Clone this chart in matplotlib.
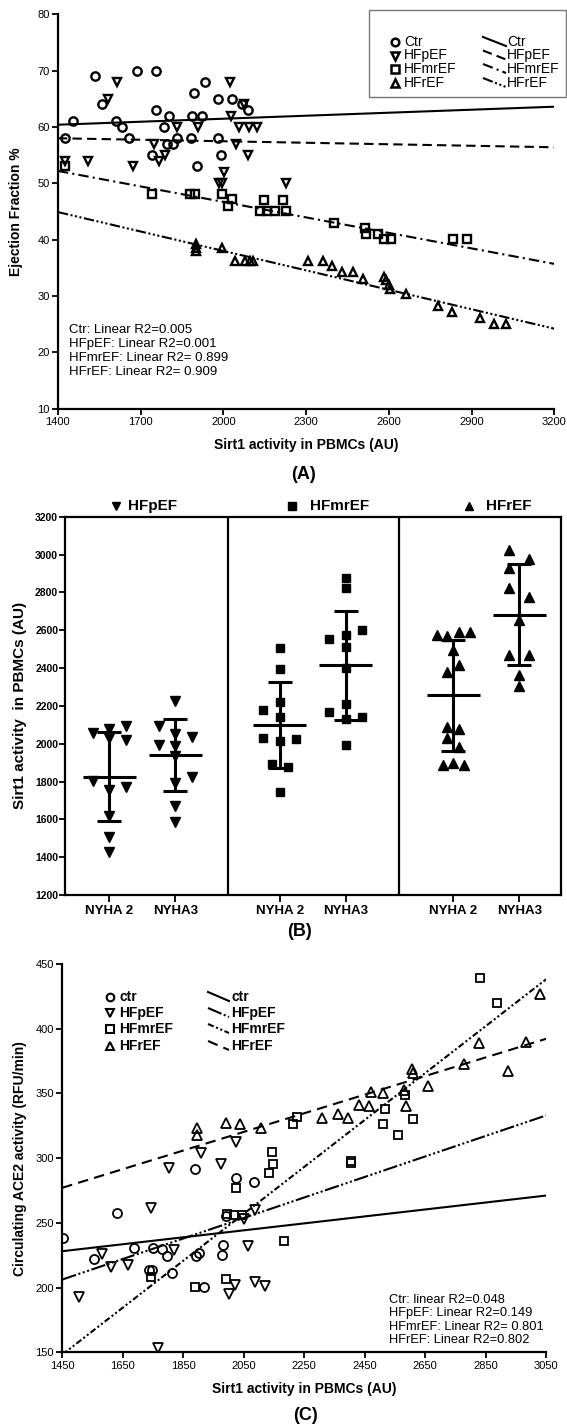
import matplotlib
matplotlib.use("Agg")
import matplotlib.pyplot as plt
from matplotlib.lines import Line2D
from matplotlib.patches import Rectangle
import numpy as np

plt.rcParams['font.family'] = ['Liberation Sans', 'DejaVu Sans']

# ---------------- DATA ----------------
# Panel A: Ejection fraction vs Sirt1 activity
a_ctr_x = [1426, 1456, 1534, 1559, 1612, 1632, 1658, 1688, 1754, 1757, 1741, 1783, 1801, 1796,
           1817, 1833, 1881, 1893, 1886, 1924, 1905, 1935, 1979, 1982, 1990, 2032, 2066, 2088]
a_ctr_y = [58, 61, 69, 64, 61, 60, 58, 70, 70, 63, 55, 60, 62, 57,
           57, 58, 58, 66, 62, 62, 53, 68, 58, 65, 55, 65, 64, 63]
a_pef_x = [1424, 1509, 1581, 1616, 1671, 1750, 1767, 1787, 1830, 1909, 2025, 2027, 2045,
           2055, 2092, 2121, 2089, 2003, 1983, 1994, 2226, 2075]
a_pef_y = [54, 54, 65, 68, 53, 57, 54, 55, 60, 60, 68, 62, 57,
           60, 60, 60, 55, 52, 50, 50, 50, 64]
a_mr_x = [1424, 1742, 1879, 1897, 1994, 2030, 2018, 2147, 2215, 2133, 2159, 2187, 2227,
          2401, 2513, 2517, 2562, 2582, 2607, 2831, 2884]
a_mr_y = [53, 48.1, 48.1, 48.1, 48.1, 47.2, 46, 47, 47, 45.1, 45.1, 45.1, 45.1,
          43, 42.1, 41, 41, 40.1, 40.1, 40.1, 40.1]
a_ref_x = [1900, 1900, 1902, 1994, 2042, 2078, 2096, 2108, 2308, 2360, 2393, 2429, 2469,
           2507, 2582, 2590, 2602, 2604, 2662, 2779, 2829, 2931, 2980, 3026]
a_ref_y = [39.2, 38.5, 38.0, 38.5, 36.2, 36.2, 36.2, 36.2, 36.3, 36.3, 35.3, 34.3, 34.3,
           33.1, 33.4, 32.8, 32.0, 31.2, 30.4, 28.3, 27.1, 26.1, 25.0, 25.0]
a_fit_x = [1400, 3200]
a_fit_ctr = [60.4, 63.6]
a_fit_pef = [58.0, 56.4]
a_fit_mr = [52.2, 35.7]
a_fit_ref = [44.9, 24.2]
a_xticks = [1400, 1700, 2000, 2300, 2600, 2900, 3200]
a_yticks = [10, 20, 30, 40, 50, 60, 70, 80]
a_r2_text = ["Ctr: Linear R2=0.005", "HFpEF: Linear R2=0.001",
             "HFmrEF: Linear R2= 0.899", "HFrEF: Linear R2= 0.909"]
a_legend_labels = ["Ctr", "HFpEF", "HFmrEF", "HFrEF"]

# Panel B: Sirt1 activity by NYHA class (slot = column inside the swarm)
b_groups = ["HFpEF", "HFmrEF", "HFrEF"]
b_ticklabels = ["NYHA 2", "NYHA3", "NYHA 2", "NYHA3", "NYHA 2", "NYHA3"]
b_vals = [
    [2055, 2076, 2095, 2020, 2030, 1805, 1757, 1770, 1620, 1507, 1425],
    [2223, 2093, 2053, 2033, 1995, 1988, 1937, 1826, 1793, 1668, 1585],
    [2505, 2395, 2222, 2180, 2142, 2032, 2014, 2025, 1892, 1875, 1743],
    [2876, 2824, 2555, 2575, 2600, 2510, 2398, 2210, 2170, 2130, 2140, 1992],
    [2574, 2568, 2592, 2592, 2495, 2380, 2415, 2090, 2075, 2028, 1984, 1887, 1896, 1887],
    [3025, 2977, 2928, 2825, 2777, 2655, 2469, 2469, 2363, 2306],
]
b_slots = [
    [-1, 0, 1, 1, 0, -1, 0, 1, 0, 0, 0],
    [0, -1, 0, 1, -1, 0, 0, 1, 0, 0, 0],
    [0, 0, 0, -1, 0, -1, 0, 1, -0.5, 0.5, 0],
    [0, 0, -1, 0, 1, 0, 0, 0, -1, 0, 1, 0],
    [-1, -0.35, 0.35, 1, 0, -0.35, 0.35, -0.35, 0.35, -0.35, 0.35, -0.65, 0, 0.65],
    [-0.6, 0.6, -0.6, -0.6, 0.6, 0, -0.6, 0.6, 0, 0],
]
b_mean = [1825, 1940, 2098, 2415, 2255, 2682]
b_sd = [236, 190, 227, 289, 293, 266]
b_yticks = [1200, 1400, 1600, 1800, 2000, 2200, 2400, 2600, 2800, 3000, 3200]

# Panel C: ACE2 activity vs Sirt1 activity
c_ctr_x = [1453, 1630, 1556, 1687, 1751, 1781, 1795, 1737, 1748, 1814, 1889, 1891, 1902,
           1977, 1982, 1990, 2026, 2085, 1919]
c_ctr_y = [238, 258, 222, 230.5, 230.5, 229.7, 224.5, 213.5, 213.5, 211.5, 292, 224.5, 226.6,
           225.3, 233, 255, 284.4, 281.8, 200.5]
c_pef_x = [1505, 1580, 1613, 1666, 1745, 1803, 1820, 1908, 1975, 2026, 2052, 2089, 2065,
           2021, 2001, 2089, 2120, 1767]
c_pef_y = [192.7, 225.8, 216.2, 217.5, 261.7, 292.2, 229.2, 303.9, 295.6, 312.5, 253.1, 259.9,
           232.3, 201.8, 195.2, 204.4, 201.2, 153.1]
c_mr_x = [1743, 1890, 1993, 2026, 1995, 2018, 2043, 2134, 2144, 2147, 2184, 2214, 2228,
          2404, 2404, 2512, 2517, 2561, 2584, 2609, 2832, 2887]
c_mr_y = [207.8, 200.5, 206.5, 276.6, 257, 256, 256, 288.5, 304.7, 295.6, 235.7, 326, 332,
          298, 296, 326, 338, 318, 349, 330, 439, 420]
c_ref_x = [1897, 1897, 1993, 2037, 2107, 2308, 2363, 2396, 2431, 2466, 2470, 2510, 2580,
           2587, 2606, 2609, 2661, 2779, 2829, 2925, 2984, 3029]
c_ref_y = [323, 318, 327, 326, 323, 331, 334, 331, 341, 340, 351, 350, 353,
           340, 369, 366, 356, 373, 389, 367, 390, 427]
c_fit_x = [1450, 3050]
c_fit_ctr = [228.1, 271.1]
c_fit_pef = [206.2, 333.0]
c_fit_mr = [148.2, 438.2]
c_fit_ref = [277.1, 392.2]
c_xticks = [1450, 1650, 1850, 2050, 2250, 2450, 2650, 2850, 3050]
c_yticks = [150, 200, 250, 300, 350, 400, 450]
c_r2_text = ["Ctr: linear R2=0.048", "HFpEF: Linear R2=0.149",
             "HFmrEF: Linear R2= 0.801", "HFrEF: Linear R2=0.802"]
c_legend_labels = ["ctr", "HFpEF", "HFmrEF", "HFrEF"]

# ---------------- LAYOUT ----------------
W, H = 567, 1428
fig = plt.figure(figsize=(W / 100, H / 100), dpi=100)


def fx(x):
    return x / W


def fy(y):
    return 1 - y / H


def axes_px(l, t, r, b):
    return fig.add_axes([fx(l), fy(b), (r - l) / W, (b - t) / H])


LW = 1.5
tick_kw = dict(direction='out', length=4, width=1.3, labelsize=8, pad=2)

ls_a = {'ctr': '-', 'pef': (0, (4.5, 2.5)), 'mr': (0, (5, 2, 1, 2)),
        'ref': (0, (5, 1.2, 1, 1.2, 1, 1.2, 1, 1.2))}
ls_c = {'ctr': '-', 'pef': (0, (7, 1.2, 1, 1.2, 1, 1.2, 1, 1.2)),
        'mr': (0, (3, 1.2, 1, 1.2, 1, 1.2)), 'ref': (0, (5, 3))}

# ---------- Panel A ----------
axA = axes_px(57.9, 14.3, 554.4, 408.7)
axA.set_xlim(1400, 3200)
axA.set_ylim(10, 80)
for s in ['top', 'right']:
    axA.spines[s].set_visible(False)
for s in ['left', 'bottom']:
    axA.spines[s].set_linewidth(1.6)
axA.set_xticks(a_xticks)
axA.set_yticks(a_yticks)
axA.tick_params(**tick_kw)
axA.plot(a_fit_x, a_fit_ctr, color='k', lw=LW, ls=ls_a['ctr'])
axA.plot(a_fit_x, a_fit_pef, color='k', lw=LW, ls=ls_a['pef'])
axA.plot(a_fit_x, a_fit_mr, color='k', lw=LW, ls=ls_a['mr'])
axA.plot(a_fit_x, a_fit_ref, color='k', lw=LW, ls=ls_a['ref'])
mk = dict(ls='none', mfc='none', mec='k', mew=1.7, ms=6, zorder=3)
axA.plot(a_ctr_x, a_ctr_y, marker='o', **mk)
axA.plot(a_pef_x, a_pef_y, marker='v', **mk)
axA.plot(a_mr_x, a_mr_y, marker='s', **dict(mk, ms=5.5))
axA.plot(a_ref_x, a_ref_y, marker='^', **mk)
axA.set_xlabel("Sirt1 activity in PBMCs (AU)", fontsize=10, fontweight='bold', labelpad=8)
axA.set_ylabel("Ejection Fraction %", fontsize=10, fontweight='bold', labelpad=10)
for i, t in enumerate(a_r2_text):
    fig.text(fx(68.7), fy(330 + i * 13.9), t, fontsize=9.5, va='center', ha='left')

# legend A
fig.add_artist(Rectangle((fx(369), fy(97)), (566 - 369) / W, 87 / H, transform=fig.transFigure,
                         fill=False, edgecolor='#777777', lw=1.0))
leg_rows = [42, 55.5, 69, 83]
leg_markers = ['o', 'v', 's', '^']
leg_ls_a = [ls_a['ctr'], ls_a['pef'], ls_a['mr'], ls_a['ref']]
for yrow, m, lab, lsty in zip(leg_rows, leg_markers, a_legend_labels, leg_ls_a):
    fig.add_artist(Line2D([fx(395)], [fy(yrow)], transform=fig.transFigure, marker=m,
                          mfc='none', mec='k', mew=1.8, ms=5.5, ls='none'))
    fig.text(fx(404), fy(yrow), lab, fontsize=10, va='center', ha='left')
    fig.add_artist(Line2D([fx(483), fx(506)], [fy(yrow - 5), fy(yrow + 4)], transform=fig.transFigure,
                          color='k', lw=LW, ls=lsty))
    fig.text(fx(507), fy(yrow), lab, fontsize=10, va='center', ha='left')

fig.text(fx(304), fy(475), "(A)", fontsize=13, fontweight='bold', ha='center', va='center')

# ---------- Panel B ----------
axB = axes_px(65.1, 516.7, 560.6, 895)
axB.set_xlim(0, 9)
axB.set_ylim(1200, 3200)
for s in axB.spines.values():
    s.set_linewidth(1.6)
b_pos = [0.8, 2.0, 3.9, 5.1, 7.05, 8.25]
b_dividers = [2.95, 6.07]
slot_w = 0.3
b_markers = ['v', 'v', 's', 's', '^', '^']
b_ms = [6.5, 6.5, 6.2, 6.2, 6.5, 6.5]
for d in b_dividers:
    axB.axvline(d, color='k', lw=1.6)
for i in range(6):
    xs = [b_pos[i] + s * slot_w for s in b_slots[i]]
    axB.plot(xs, b_vals[i], ls='none', marker=b_markers[i], color='k', ms=b_ms[i], zorder=3)
    axB.errorbar([b_pos[i]], [b_mean[i]], yerr=[b_sd[i]], fmt='none', ecolor='k',
                 elinewidth=2.2, capsize=8.5, capthick=2.2, zorder=4)
    axB.hlines(b_mean[i], b_pos[i] - 0.48, b_pos[i] + 0.48, color='k', lw=2.2, zorder=4)
axB.set_xticks(b_pos)
axB.set_xticklabels(b_ticklabels, fontsize=9.5, fontweight='bold')
axB.set_yticks(b_yticks)
axB.tick_params(axis='y', direction='out', length=4, width=1.3, labelsize=7.5, pad=1)
axB.tick_params(axis='x', direction='out', length=5, width=1.3, pad=2)
for lab in axB.get_yticklabels():
    lab.set_fontweight('bold')
axB.set_ylabel("Sirt1 activity  in PBMCs (AU)", fontsize=11, fontweight='bold', labelpad=6)

title_marks = [(116, 128, 'v'), (292, 310, 's'), (469, 486, '^')]
for (mx, tx, m), g in zip(title_marks, b_groups):
    fig.add_artist(Line2D([fx(mx)], [fy(506)], transform=fig.transFigure, marker=m,
                          color='k', ms=6, ls='none'))
    fig.text(fx(tx), fy(506), g, fontsize=11, fontweight='bold', va='center', ha='left')

fig.text(fx(300), fy(932), "(B)", fontsize=13, fontweight='bold', ha='center', va='center')

# ---------- Panel C ----------
axC = axes_px(62.2, 964, 546.1, 1352.3)
axC.set_xlim(1450, 3050)
axC.set_ylim(150, 450)
for s in ['top', 'right']:
    axC.spines[s].set_visible(False)
for s in ['left', 'bottom']:
    axC.spines[s].set_linewidth(1.6)
axC.set_xticks(c_xticks)
axC.set_yticks(c_yticks)
axC.tick_params(**tick_kw)
axC.plot(c_fit_x, c_fit_ctr, color='k', lw=LW, ls=ls_c['ctr'])
axC.plot(c_fit_x, c_fit_pef, color='k', lw=LW, ls=ls_c['pef'])
axC.plot(c_fit_x, c_fit_mr, color='k', lw=LW, ls=ls_c['mr'])
axC.plot(c_fit_x, c_fit_ref, color='k', lw=LW, ls=ls_c['ref'])
mkc = dict(ls='none', mfc='none', mec='k', mew=1.3, ms=6.5, zorder=3)
axC.plot(c_ctr_x, c_ctr_y, marker='o', **mkc)
axC.plot(c_pef_x, c_pef_y, marker='v', **mkc)
axC.plot(c_mr_x, c_mr_y, marker='s', **dict(mkc, ms=6))
axC.plot(c_ref_x, c_ref_y, marker='^', **mkc)
axC.set_xlabel("Sirt1 activity in PBMCs (AU)", fontsize=10, fontweight='bold', labelpad=8)
axC.set_ylabel("Circulating ACE2 activity (RFU/min)", fontsize=10, fontweight='bold', labelpad=6)
for i, t in enumerate(c_r2_text):
    fig.text(fx(389), fy(1300 + i * 13.4), t, fontsize=9.3, va='center', ha='left')

leg_rows_c = [997, 1013, 1029, 1046]
leg_ls_c = [ls_c['ctr'], ls_c['pef'], ls_c['mr'], ls_c['ref']]
for yrow, m, lab, lsty in zip(leg_rows_c, leg_markers, c_legend_labels, leg_ls_c):
    fig.add_artist(Line2D([fx(110)], [fy(yrow)], transform=fig.transFigure, marker=m,
                          mfc='none', mec='k', mew=1.5, ms=5.5, ls='none'))
    fig.text(fx(119), fy(yrow), lab, fontsize=10, fontweight='bold', va='center', ha='left')
    fig.add_artist(Line2D([fx(208), fx(229)], [fy(yrow - 5), fy(yrow + 4)], transform=fig.transFigure,
                          color='k', lw=LW, ls=lsty))
    fig.text(fx(231.5), fy(yrow), lab, fontsize=10, fontweight='bold', va='center', ha='left')

fig.text(fx(305), fy(1416), "(C)", fontsize=13, fontweight='bold', ha='center', va='center')

fig.savefig("out.png", dpi=100)
